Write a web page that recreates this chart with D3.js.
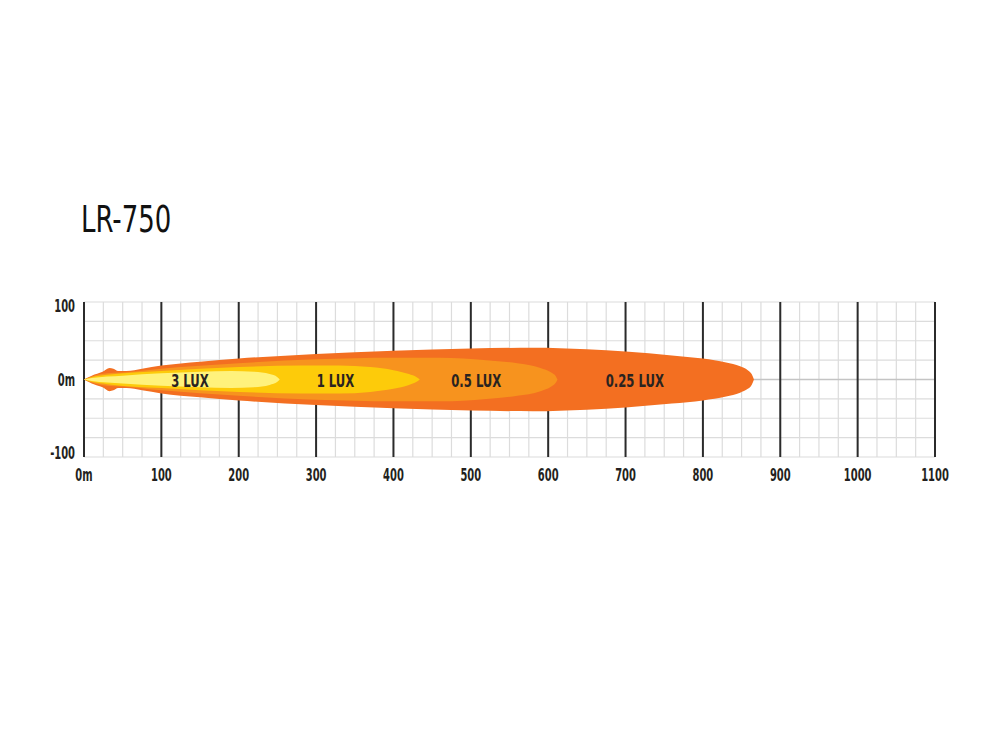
<!DOCTYPE html>
<html>
<head>
<meta charset="utf-8">
<script src="https://cdn.jsdelivr.net/npm/d3@7"></script>
<style>
  body { margin: 0; background: #fff; }
  text { font-family: "Liberation Sans Narrow", "DejaVu Sans Condensed", sans-serif; }
</style>
</head>
<body>
<script>
"use strict";
// beam profiles: [distance m, half width m]
let lux025 = [[0,0],[10,5],[24,10],[33,15],[38,14],[44,11],[55,11],[75,14],[100,18],[150,23],[200,27],[300,33],[400,37],[500,40],[580,41],[650,39],[700,36],[760,31],[800,27],[830,22],[848,17],[858,12],[863,7],[866,0]]
let lux05 = [[0,0],[10,4],[30,8],[50,9],[100,14],[200,21],[300,26],[400,28],[460,28],[520,25],[560,21],[590,15],[604,9],[610,4],[612,0]]
let lux1 = [[0,0],[10,3],[30,6],[100,11],[200,16],[280,18],[330,18],[370,16],[400,12],[420,7],[430,3],[434,0]]
let lux3 = [[0,0],[10,2],[50,5],[100,8],[150,10],[190,11],[220,10],[240,7],[250,3],[253,0]]

let beams = [
  {label: "0.25 LUX", pts: lux025, color: "#f36f21", at: 712},
  {label: "0.5 LUX", pts: lux05, color: "#f7931e", at: 507},
  {label: "1 LUX", pts: lux1, color: "#fdcb0a", at: 325},
  {label: "3 LUX", pts: lux3, color: "#fff27c", at: 137}
]

let xTicks = [0, 100, 200, 300, 400, 500, 600, 700, 800, 900, 1000, 1100]
let xTickLabels = ["0m", "100", "200", "300", "400", "500", "600", "700", "800", "900", "1000", "1100"]
let yTicks = [100, 0, -100]
let yTickLabels = ["100", "0m", "-100"]

let svgContainer = d3.select("body")
                     .append("svg")
                     .attr("width", 1000)
                     .attr("height", 750)

let x = d3.scaleLinear().domain([0, 1100]).range([84, 935])
let y = d3.scaleLinear().domain([-100, 100]).range([457, 302])

svgContainer.append("text")
    .attr("transform", "translate(81,232) scale(0.78,1)")
    .attr("font-size", 37)
    .attr("fill", "#111")
    .text("LR-750")

let grid = svgContainer.append("g")
// minor grid every 25m
grid.selectAll(".vminor")
    .data(d3.range(0, 1101, 25))
    .enter()
    .append("line")
    .attr("x1", d => x(d)).attr("x2", d => x(d))
    .attr("y1", y(100)).attr("y2", y(-100))
    .attr("stroke", "#dcdcdc")
    .attr("stroke-width", 1.2)
grid.selectAll(".hminor")
    .data(d3.range(-100, 101, 25))
    .enter()
    .append("line")
    .attr("x1", x(0)).attr("x2", x(1100))
    .attr("y1", d => y(d)).attr("y2", d => y(d))
    .attr("stroke", d => d === 0 ? "#c4c4c4" : "#dcdcdc")
    .attr("stroke-width", d => d === 0 ? 1.6 : 1.2)
grid.selectAll(".vmajor")
    .data(xTicks)
    .enter()
    .append("line")
    .attr("x1", d => x(d)).attr("x2", d => x(d))
    .attr("y1", y(100)).attr("y2", y(-100))
    .attr("stroke", "#2b2b2b")
    .attr("stroke-width", 2)

let area = d3.area()
    .x(d => x(d[0]))
    .y0(d => y(d[1]))
    .y1(d => y(-d[1]))
    .curve(d3.curveMonotoneX)

let beamG = svgContainer.append("g")
beamG.selectAll("path")
    .data(beams)
    .enter()
    .append("path")
    .attr("d", d => area(d.pts))
    .attr("fill", d => d.color)

beamG.selectAll("text")
    .data(beams)
    .enter()
    .append("text")
    .attr("transform", d => "translate(" + x(d.at) + "," + (y(0) + 7) + ") scale(0.72,1)")
    .attr("text-anchor", "middle")
    .attr("font-size", 18)
    .attr("font-weight", "bold")
    .attr("fill", "#2a2320")
    .text(d => d.label)

let axisG = svgContainer.append("g")
axisG.selectAll("text")
    .data(xTicks)
    .enter()
    .append("text")
    .attr("transform", d => "translate(" + x(d) + ",481) scale(0.65,1)")
    .attr("text-anchor", "middle")
    .attr("font-size", 17)
    .attr("font-weight", "bold")
    .attr("fill", "#231f20")
    .text((d, i) => xTickLabels[i])

svgContainer.append("g")
    .selectAll("text")
    .data(yTicks)
    .enter()
    .append("text")
    .attr("transform", d => "translate(75," + (y(d) + 6 + (d === 100 ? 4 : d === -100 ? -4 : 0)) + ") scale(0.65,1)")
    .attr("text-anchor", "end")
    .attr("font-size", 17)
    .attr("font-weight", "bold")
    .attr("fill", "#231f20")
    .text((d, i) => yTickLabels[i])
</script>
</body>
</html>
